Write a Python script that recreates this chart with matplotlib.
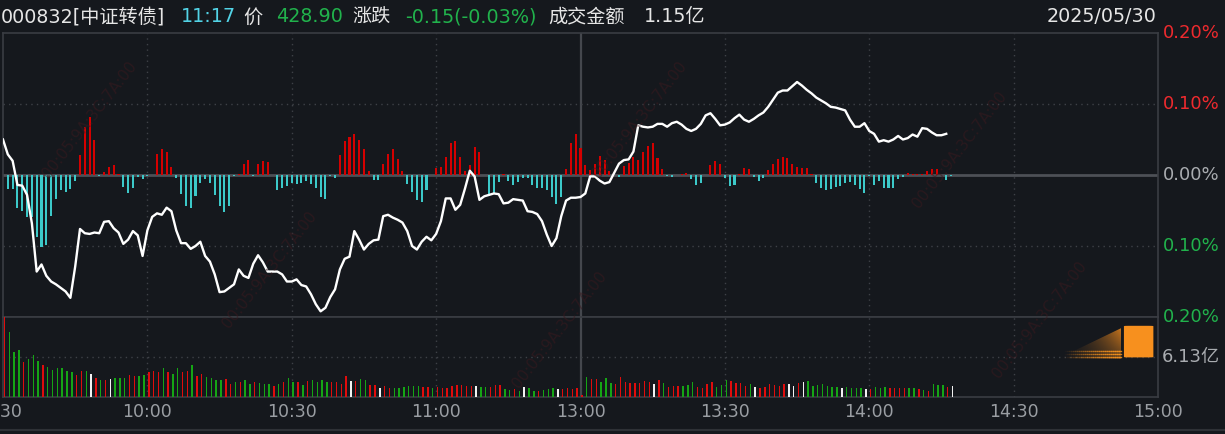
import numpy as np
import matplotlib.pyplot as plt
from matplotlib.lines import Line2D
from matplotlib.patches import FancyBboxPatch, Polygon

plt.rcParams['font.family'] = ['DejaVu Sans', 'Noto Sans CJK SC']

# 分时涨跌幅 (%), one value per minute from 9:30
price_pct = [
    0.050, 0.029, 0.020, -0.014, -0.015, -0.028, -0.068, -0.136, -0.126, -0.142,
    -0.150, -0.154, -0.159, -0.164, -0.173, -0.129, -0.076, -0.082, -0.083, -0.081,
    -0.082, -0.066, -0.065, -0.075, -0.081, -0.097, -0.091, -0.079, -0.085, -0.114,
    -0.078, -0.059, -0.054, -0.056, -0.046, -0.051, -0.078, -0.096, -0.096, -0.104,
    -0.100, -0.094, -0.114, -0.122, -0.140, -0.165, -0.164, -0.159, -0.154, -0.133,
    -0.142, -0.145, -0.125, -0.113, -0.123, -0.136, -0.136, -0.136, -0.140, -0.150,
    -0.150, -0.147, -0.155, -0.157, -0.168, -0.182, -0.192, -0.187, -0.172, -0.161,
    -0.133, -0.118, -0.115, -0.079, -0.091, -0.105, -0.097, -0.092, -0.091, -0.058,
    -0.056, -0.060, -0.063, -0.067, -0.079, -0.100, -0.105, -0.094, -0.087, -0.092,
    -0.083, -0.065, -0.033, -0.033, -0.049, -0.042, -0.019, 0.006, -0.002, -0.035,
    -0.030, -0.028, -0.026, -0.027, -0.040, -0.039, -0.034, -0.035, -0.036, -0.051,
    -0.052, -0.055, -0.065, -0.084, -0.100, -0.089, -0.058, -0.036, -0.032, -0.032,
    -0.031, -0.026, -0.002, -0.002, -0.008, -0.012, -0.010, 0.003, 0.016, 0.021,
    0.022, 0.033, 0.070, 0.068, 0.067, 0.068, 0.072, 0.072, 0.068, 0.073,
    0.075, 0.071, 0.065, 0.062, 0.065, 0.072, 0.084, 0.087, 0.079, 0.070,
    0.071, 0.074, 0.080, 0.085, 0.078, 0.075, 0.079, 0.084, 0.088, 0.096,
    0.106, 0.116, 0.119, 0.119, 0.125, 0.131, 0.126, 0.120, 0.115, 0.109,
    0.105, 0.101, 0.096, 0.095, 0.093, 0.091, 0.078, 0.068, 0.068, 0.073,
    0.062, 0.058, 0.047, 0.049, 0.047, 0.050, 0.055, 0.050, 0.052, 0.057,
    0.054, 0.066, 0.065, 0.060, 0.056, 0.056, 0.058,
]

# 资金强弱柱 (relative units, +-142 spans the price panel)
flow_bars = [
    0, -14.3, -14.3, -32.7, -35.7, -42.3, -41.7, -62.3, -72.3, -70,
    -40.7, -24.3, -15, -16.7, -14.3, -5.7, 20, 48.3, 58.3, 35,
    -1, 3.3, 8.3, 10, 1, -11.7, -17.7, -12.7, -2.3, -4,
    -1, 0.3, 21, 26, 23.3, 8.3, -2.7, -19, -30.7, -32.7,
    -20.7, -8.3, -4, -7.7, -20, -31, -36.7, -30.7, -0.7, 1,
    10.7, 15, -0.7, 10.7, 14, 12.7, 0, -15, -12.7, -10.7,
    -7.7, -9.3, -7.7, -5.7, -9.3, -12.7, -21.7, -24, -1, -2.7,
    20, 34, 38.3, 41, 35, 26, 4, -5, -5, 11,
    21, 26, 15.7, 4, -9, -16.7, -25, -26.7, -15, 0,
    7.3, 8.3, 18.3, 32.3, 34, 18.3, 4, 10, 28.3, 23.3,
    0, -21, -18, -6.7, 1, -6, -10, -6.7, -2.7, -3.3,
    -10, -13.3, -13.3, -15, -21.7, -29, -21.7, 6, 31.7, 41,
    26.7, 10, 5, 11, 19, 15, 4, 0.5, -2.3, 9,
    12.3, 17.7, 15, 23.3, 29, 31.7, 16.7, 6, -1, -2.3,
    0.3, 0.7, 1.7, -4.3, -10, -7.7, 0, 10, 14, 11,
    -3.3, -11, -10, 0.7, 6.7, 5.7, -1.7, -5.7, -3, 5,
    11, 16, 17.7, 17, 11, 7.7, 7, 7, 1, -7.7,
    -13.3, -15, -14, -11.7, -11, -7.7, -6.7, -10, -14.3, -18.3,
    -0.5, -10, -5.7, -13.3, -13.3, -13.3, -4.3, -2.3, 1.7, 0.7,
    0.7, 1, 4, 5.7, 5.7, 0.3, -5, -0.7,
]

# 成交额 (亿) per minute
volume_yi = [
    12.26, 10.0, 6.95, 7.25, 5.36, 5.82, 6.49, 5.57, 4.95, 4.60,
    4.19, 4.39, 4.44, 3.98, 3.88, 3.42, 4.04, 4.04, 3.58, 2.91,
    2.66, 2.55, 2.81, 2.91, 2.86, 2.96, 3.37, 3.27, 3.17, 3.32,
    3.88, 4.04, 3.78, 4.44, 3.83, 3.58, 4.50, 3.78, 4.04, 4.95,
    3.27, 3.58, 3.07, 2.86, 2.61, 2.55, 2.76, 2.04, 2.25, 2.30,
    2.66, 2.04, 2.25, 2.20, 2.04, 2.04, 1.74, 2.04, 2.25, 2.91,
    2.25, 2.35, 1.89, 2.50, 2.66, 2.35, 2.55, 2.25, 2.25, 2.25,
    2.04, 3.27, 2.40, 2.50, 2.81, 2.61, 1.89, 1.89, 1.43, 1.74,
    1.33, 1.33, 1.38, 1.58, 1.64, 1.74, 1.69, 1.58, 1.53, 1.33,
    1.53, 1.43, 1.33, 1.74, 1.84, 1.84, 1.74, 1.74, 1.74, 1.58,
    1.58, 1.48, 1.84, 1.89, 1.23, 1.12, 1.28, 0.97, 1.53, 1.38,
    0.97, 0.97, 1.12, 1.28, 1.38, 1.23, 1.28, 1.38, 1.28, 1.33,
    0.26, 3.12, 2.81, 2.81, 2.35, 2.96, 2.20, 2.04, 3.07, 2.35,
    2.15, 2.20, 2.20, 2.50, 2.35, 2.04, 2.66, 2.20, 1.53, 1.69,
    1.69, 1.69, 1.84, 2.35, 1.53, 1.43, 2.04, 2.35, 1.58, 1.84,
    2.66, 2.45, 2.15, 2.15, 1.69, 2.04, 1.53, 1.43, 1.48, 2.04,
    1.84, 1.74, 1.94, 2.04, 1.64, 2.15, 2.30, 2.50, 1.74, 1.89,
    2.04, 1.74, 1.48, 1.53, 1.43, 1.53, 1.43, 1.43, 1.43, 1.28,
    1.28, 1.53, 1.43, 1.53, 1.33, 1.43, 1.43, 1.43, 1.43, 1.43,
    1.28, 1.12, 0.92, 2.04, 1.89, 1.89, 1.53, 1.74,
]
# r = up, g = down, w = flat
volume_dir = ("rgggrgggrg" "gggggrrgwr" "grwgggrrgg" "rrrgrggrrg" "rrggggrrgr"
              "ggrgggrgrg" "grgrggggrr" "rrwrggrrwr" "rggggggrrg" "rrrrrrrrwg"
              "grrrggrgwg" "grgggwrrrr" "rgrrgggrrr" "rrrrrwrgrr" "rgggrrrrgg"
              "grrrrgwrrr" "rrrwwrwggg" "ggggwggggw" "rgggrrrrgg" "rgrgggrw")

time_ticks = [0, 30, 60, 90, 120, 150, 180, 210, 240]
time_labels = ['9:30', '10:00', '10:30', '11:00', '13:00', '13:30', '14:00', '14:30', '15:00']
pct_ticks = [0.2, 0.1, 0.0, -0.1, -0.2]
pct_labels = ['0.20%', '0.10%', '0.00%', '0.10%', '0.20%']
vol_mid = 6.13

BG = '#15181d'
FRAME = '#3a3d43'
GRID = '#3e4147'
RED = '#ee2a2e'
GREEN = '#21b24c'
GRAY = '#a9acb0'
WHITE = '#e6e6e6'

W, H = 1225, 434
fig = plt.figure(figsize=(W / 100, H / 100), dpi=100, facecolor=BG)


def px_rect(x0, y0, x1, y1):
    return [x0 / W, 1 - y1 / H, (x1 - x0) / W, (y1 - y0) / H]


ax = fig.add_axes(px_rect(3, 33, 1158, 317))
axv = fig.add_axes(px_rect(3, 317, 1158, 397))

for a in (ax, axv):
    a.set_facecolor(BG)
    a.set_xlim(0, 240)
    a.set_xticks([])
    a.set_yticks([])
    for s in a.spines.values():
        s.set_color(FRAME)
        s.set_linewidth(1.2)
    for t in [30, 60, 90, 150, 180, 210]:
        a.axvline(t, color=GRID, lw=1, ls=(0, (1, 3)), zorder=0)
    a.axvline(120, color='#44474d', lw=1.6, zorder=0)

# price panel
ax.set_ylim(-0.2, 0.2)
for yv in (0.1, -0.1):
    ax.axhline(yv, color=GRID, lw=1, ls=(0, (1, 3)), zorder=0)
ax.axhline(0, color='#4d5056', lw=2, zorder=1)

flow = np.array(flow_bars) * 0.2 / 142
xf = np.arange(len(flow))
ax.bar(xf, flow, width=0.42, color=np.where(flow >= 0, '#d40000', '#3cc9c9'), zorder=2)
ax.plot(np.arange(len(price_pct)), price_pct, color='white', lw=1.7, zorder=5,
        solid_joinstyle='round')

lab_colors = [RED, RED, GRAY, GREEN, GREEN]
for yv, lab, c in zip(pct_ticks, pct_labels, lab_colors):
    ax.text(1.0045, yv, lab, transform=ax.get_yaxis_transform(), color=c,
            fontsize=13, ha='left', va='center', clip_on=False)

# volume panel
axv.set_ylim(0, 12.26)
axv.axhline(vol_mid, color=GRID, lw=1, ls=(0, (1, 3)), zorder=0)
vcol = {'r': '#e00c0c', 'g': '#15a515', 'w': '#f2f2f2'}
axv.bar(np.arange(len(volume_yi)) + 0.15, volume_yi, width=0.3, align='edge',
        color=[vcol[c] for c in volume_dir], zorder=3)
axv.text(1.0035, vol_mid, '6.13亿', transform=axv.get_yaxis_transform(), color=GRAY,
         fontsize=13, ha='left', va='center', clip_on=False)

for t, lab in zip(time_ticks, time_labels):
    axv.text(t, -0.19, lab, transform=axv.get_xaxis_transform(), color='#9a9ea3',
             fontsize=12.5, ha='center', va='center', clip_on=False)

# orange marker with fading tail
tail = Polygon([(0.912, 0.47), (0.968, 0.86), (0.968, 0.47)], closed=True,
               transform=axv.transAxes, facecolor='none', edgecolor='none')
axv.add_patch(tail)
grad = np.zeros((64, 256, 4))
grad[..., 0] = 0.97
grad[..., 1] = 0.56
grad[..., 2] = 0.12
ramp_x = np.linspace(0, 1, 256) ** 2.2
ramp_y = np.linspace(0.35, 1, 64)[:, None]
grad[..., 3] = 0.8 * ramp_x[None, :] * ramp_y
im = axv.imshow(grad, extent=(0.905, 0.968, 0.86, 0.47), transform=axv.transAxes,
                aspect='auto', zorder=3, interpolation='bilinear')
im.set_clip_path(tail)
for yl in (0.50, 0.54, 0.58):
    xs = np.linspace(0.918, 0.968, 30)
    for i in range(len(xs) - 1):
        axv.plot(xs[i:i + 2], [yl, yl], transform=axv.transAxes,
                 color='#f7931e', alpha=0.9 * i / len(xs), lw=1, zorder=3)
axv.add_patch(FancyBboxPatch((0.9705, 0.495), 0.0255, 0.395,
                             boxstyle='round,pad=0,rounding_size=0.004',
                             transform=axv.transAxes, facecolor='#f7901e',
                             edgecolor='none', zorder=4))
axv.set_xlim(0, 240)

# bottom frame line
fig.add_artist(Line2D([0, 1], [1 - 430 / H, 1 - 430 / H], color='#2e3136', lw=1.5))

# watermark
wm = '00:05:9A:3C:7A:00'
for wx, wy in [(90, 120), (270, 270), (640, 120), (560, 330), (960, 150), (1040, 320)]:
    fig.text(wx / W, 1 - wy / H, wm, rotation=52, color='#3a1a1f', alpha=0.55,
             fontsize=11, ha='center', va='center', zorder=0)

# header
hy = 1 - 17 / H
hdr = [
    (1, '000832[中证转债]', WHITE),
    (181, '11:17', '#52d3e6'),
    (243, '价', WHITE),
    (276, '428.90', GREEN),
    (352, '涨跌', WHITE),
    (405, '-0.15(-0.03%)', GREEN),
    (548, '成交金额', WHITE),
    (644, '1.15亿', WHITE),
]
for hx, txt, c in hdr:
    fig.text(hx / W, hy, txt, color=c, fontsize=13.8, ha='left', va='center')
fig.text(1157 / W, hy, '2025/05/30', color=WHITE, fontsize=13.8, ha='right', va='center')

fig.savefig('out.png', dpi=100, facecolor=BG)
